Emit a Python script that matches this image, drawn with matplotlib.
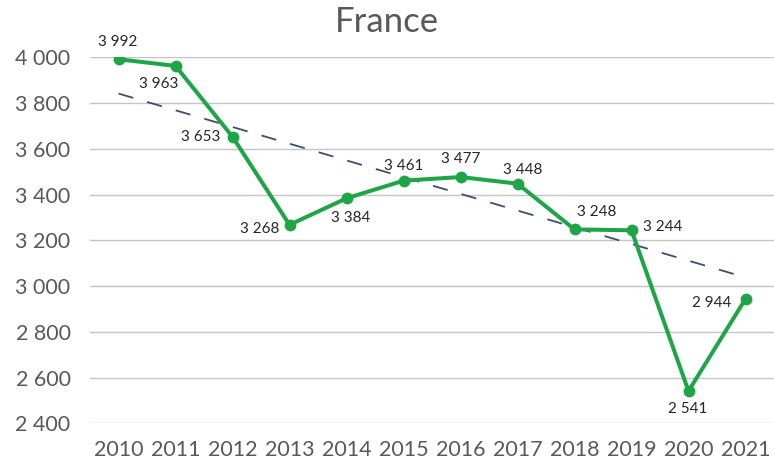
import numpy as np
import matplotlib
matplotlib.use("Agg")
import matplotlib.pyplot as plt

plt.rcParams['font.family'] = ['Lato', 'DejaVu Sans']

years = [2010, 2011, 2012, 2013, 2014, 2015, 2016, 2017, 2018, 2019, 2020, 2021]
values = [3992, 3963, 3653, 3268, 3384, 3461, 3477, 3448, 3248, 3244, 2541, 2944]
# trend line (first and last year)
trend_years = [2010, 2021]
trend_values = [3842, 3038]
y_ticks = [2400, 2600, 2800, 3000, 3200, 3400, 3600, 3800, 4000]
title = "France"

green = "#1FA548"
grey = "#595959"

def fmt(v):
    return f"{v:,}".replace(",", " ")

fig = plt.figure(figsize=(7.74, 4.67), dpi=100)
ax = fig.add_axes([0.1163, 0.0936, 0.8837, 0.7834])

xs = np.arange(len(years))
tx = [years.index(y) for y in trend_years]

for t in y_ticks:
    ax.axhline(t, color="#C4C4C4", lw=1.0, zorder=0)

ax.plot(tx, trend_values, color="#3A4F73", lw=1.3, dashes=(8.5, 8), zorder=1)
ax.plot(xs, values, color=green, lw=2.9, marker="o", markersize=7.5, zorder=2)

# label offsets in pixels (dx, dy, ha)
offsets = [(-1, 17, "center"), (-17, -18, "center"), (-12, 0, "right"),
           (-10, -4, "right"), (4, -20, "center"), (0, 15, "center"),
           (0, 18, "center"), (5, 14, "center"), (22, 17, "center"),
           (11, 3, "left"), (-1, -18, "center"), (-14, -4, "right")]
for x, v, (dx, dy, ha) in zip(xs, values, offsets):
    ax.annotate(fmt(v), (x, v), xytext=(dx, dy), textcoords="offset pixels",
                ha=ha, va="center", fontsize=11, color="#262626")

ax.set_xlim(-0.5, len(years) - 0.5)
ax.set_ylim(2400, 4000)
ax.set_xticks(xs)
ax.set_xticklabels([str(y) for y in years])
ax.set_yticks(y_ticks)
ax.set_yticklabels([fmt(t) for t in y_ticks])
ax.tick_params(axis="both", length=0, labelsize=15.5, labelcolor=grey)
ax.tick_params(axis="y", pad=14)
ax.tick_params(axis="x", pad=12)
for s in ax.spines.values():
    s.set_visible(False)

fig.text(0.5, 0.953, title, ha="center", va="center", fontsize=25, color=grey)

fig.savefig("out.png", dpi=100)
